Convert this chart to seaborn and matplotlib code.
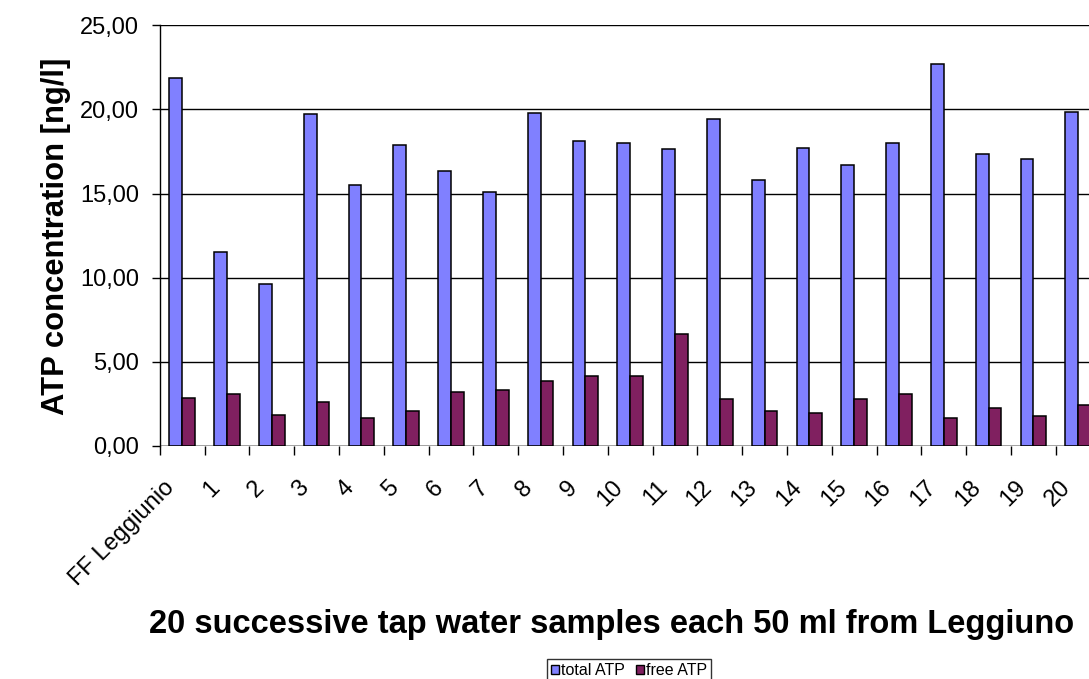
import matplotlib
matplotlib.use("Agg")
import matplotlib.pyplot as plt
import matplotlib.ticker as mticker
import matplotlib.transforms as mtransforms
from matplotlib.patches import Patch
import seaborn as sns
import pandas as pd

samples = ["FF Leggiunio"] + [str(i) for i in range(1, 21)]
total_atp = [21.90, 11.53, 9.60, 19.72, 15.50, 17.88, 16.35, 15.08, 19.76, 18.13,
             18.01, 17.62, 19.46, 15.81, 17.68, 16.69, 18.01, 22.73, 17.34, 17.03, 19.86]
free_atp = [2.82, 3.07, 1.80, 2.58, 1.65, 2.08, 3.21, 3.29, 3.85, 4.16,
            4.16, 6.66, 2.76, 2.08, 1.96, 2.76, 3.07, 1.65, 2.26, 1.77, 2.44]
series_names = ["total ATP", "free ATP"]
series_colors = ["#8080FF", "#802060"]
y_ticks = [0, 5, 10, 15, 20, 25]

df = pd.DataFrame({
    "sample": samples * 2,
    "value": total_atp + free_atp,
    "series": [series_names[0]] * len(samples) + [series_names[1]] * len(samples),
})

sns.set_theme(style="white")
plt.rcParams["font.family"] = ["Liberation Sans", "DejaVu Sans"]
plt.rcParams.update({"text.color": "black", "axes.labelcolor": "black",
                     "xtick.color": "black", "ytick.color": "black"})

fig = plt.figure(figsize=(10.89, 6.79), dpi=100)
ax = fig.add_axes([0.1467, 0.3436, 0.864, 0.619])

sns.barplot(data=df, x="sample", y="value", hue="series", order=samples,
            hue_order=series_names, palette=series_colors, width=4 / 7, gap=0,
            edgecolor="black", linewidth=1.1, saturation=1, legend=False, ax=ax)

ax.set_xlim(-0.5, len(samples) - 0.5)
ax.set_ylim(0, 25)
ax.set_yticks(y_ticks)
ax.yaxis.set_major_formatter(mticker.FuncFormatter(lambda v, p: f"{v:.2f}".replace(".", ",")))
ax.grid(axis="y", color="black", linewidth=1.0)
ax.set_axisbelow(True)

for side in ["top", "right", "bottom"]:
    ax.spines[side].set_visible(False)
ax.spines["left"].set_color("black")
ax.spines["left"].set_linewidth(1.0)
ax.axhline(0, color="black", linewidth=1.0, zorder=5)

# category ticks sit between groups; labels at group centres
ax.set_xticks([i + 0.5 for i in range(-1, len(samples))], minor=False)
ax.set_xticklabels([])
ax.set_xticks(range(len(samples)), minor=True)
ax.set_xticklabels(samples, minor=True, rotation=45, ha="right", va="center",
                   rotation_mode="anchor", fontsize=17)
ax.tick_params(axis="x", which="major", direction="out", length=6.5, width=1, color="black", bottom=True)
ax.tick_params(axis="x", which="minor", length=0, pad=28)
ax.tick_params(axis="y", direction="out", length=5.8, width=1, color="black", left=True,
               labelsize=17, pad=9)

shift = mtransforms.ScaledTranslation(-8 / 72, 0, fig.dpi_scale_trans)
for lbl in ax.get_xticklabels(minor=True):
    lbl.set_transform(lbl.get_transform() + shift)

ax.set_xlabel("")
ax.set_ylabel("")
fig.text(56.5 / 1089, 1 - 236.5 / 679, "ATP concentration [ng/l]", rotation=90,
         ha="center", va="center", fontsize=22.3, fontweight="bold")
fig.text(611.5 / 1089, 1 - 625 / 679, "20 successive tap water samples each 50 ml from Leggiuno",
         ha="center", va="center", fontsize=23.5, fontweight="bold")

handles = [Patch(facecolor=c, edgecolor="black", linewidth=1.0) for c in series_colors]
leg = fig.legend(handles, series_names, loc="upper center", bbox_to_anchor=(629 / 1089, 20 / 679),
                 ncol=2, fontsize=11.5, frameon=True, fancybox=False, edgecolor="black",
                 handlelength=0.5, handleheight=0.5, handletextpad=0.1,
                 columnspacing=0.7, borderpad=0.25, borderaxespad=0)
leg.get_frame().set_linewidth(1.0)

fig.savefig("out.png", dpi=100)
